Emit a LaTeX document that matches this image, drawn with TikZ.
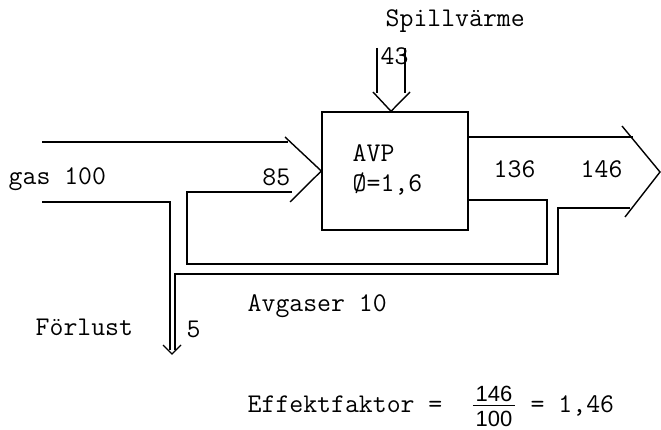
\documentclass[tikz,border=0pt]{standalone}
\usepackage{fontspec}
\newfontfamily\fracfont{Liberation Sans}
\usetikzlibrary{positioning}
\begin{document}
\begin{tikzpicture}[x=1pt, y=-1pt,
  line width=1.4pt,
  font=\fontsize{27}{32}\selectfont\ttfamily,
  unit/.style={
    draw, line width=1.4pt,
    minimum width=146pt,
    minimum height=118pt,
    inner sep=0pt},
  txt/.style={inner sep=0pt, anchor=base west},
  fracpart/.style={inner sep=0pt, anchor=base,
    font=\fracfont\fontsize{22}{24}\selectfont},
  flow/.style={draw, line width=1.4pt}
]
\useasboundingbox (0,0) rectangle (661,430);

\node[unit] (avp) at (395,171) {};

% fixed points of the streams
\coordinate (gasin)  at (42,142);
\coordinate (gasend) at (288,142);
\coordinate (gaslow) at (42,202);
\coordinate (sp)     at (391,48);
\coordinate (out)    at (633,137);
\coordinate (outtip) at (660,172);
\coordinate (loss)   at (172,354);

% inlet, gas 100
\draw[flow] (gasin) -- (gasend);
\draw[flow] (285,137) -- (avp.west) -- (290,202);
\draw[flow] (gaslow) -- (170,202) -- (170,350);

% spill heat
\draw[flow] (377,48) -- (377,93);
\draw[flow] (405,48) -- (405,93);
\draw[flow] (373,92) -- (avp.north -| sp) -- (410,92);

% outlet
\draw[flow] (avp.east |- out) -- (out);
\draw[flow] (622,126) -- (outtip) -- (625,217);

% returns
\draw[flow] (avp.east |- 0,200) -- (547,200) -- (547,264)
  -- (187,264) -- (187,192) -- (292,192);
\draw[flow] (630,208) -- (558,208) -- (558,274)
  -- (175,274) -- (175,350);
\draw[flow] (163,345) -- (loss) -- (181,345);

% labels
\node[txt] (spillT) at (385,27)  {Spillvärme};
\node[txt] (n43)    at (380,65)  {43};
\node[txt] (gasT)   at (8,185)   {gas 100};
\node[txt, anchor=base east] (n85) at (291,186) {85};
\node[txt] (avpT)   at (352,162) {AVP};
\node[txt] (phiT)   at (352,192) {Ø=1,6};
\node[txt] (n136)   at (493,178) {136};
\node[txt] (n146)   at (580,178) {146};
\node[txt] (avgT)   at (247,311) {Avgaser 10};
\node[txt] (forT)   at (35,335)  {Förlust};
\node[txt] (n5)     at (186,337) {5};

% Effektfaktor = 146/100 = 1,46
\node[txt] (effT)   at (247,412) {Effektfaktor =};
\node[fracpart] (num) at (494,401) {146};
\node[fracpart] (den) at (494,426) {100};
\draw[line width=1pt] ([xshift=-2pt]num.south west |- 0,405)
  -- ([xshift=2pt]num.south east |- 0,405);
\node[txt] (resT)   at (530,412) {= 1,46};
\end{tikzpicture}
\end{document}
